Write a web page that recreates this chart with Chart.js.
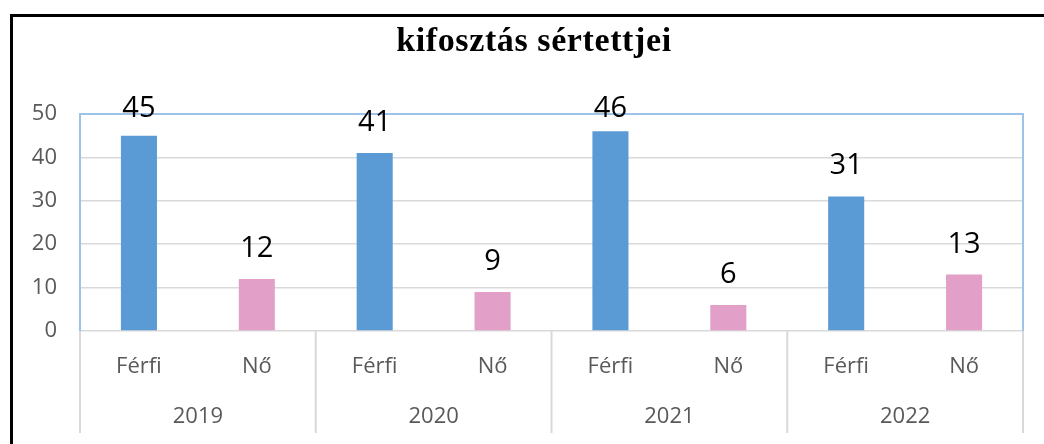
<!DOCTYPE html>
<html lang="hu">
  <head>
    <meta charset="UTF-8" />
    <title>kifosztás sértettjei</title>
    <style>
      html, body { margin: 0; overflow: hidden; background: #fff; }
      /* black outer frame, cut off at right and bottom like the screenshot */
      .frame {
        position: absolute;
        left: 10px;
        top: 14px;
        width: 1100px;
        height: 500px;
        border-left: 3px solid #000;
        border-top: 3px solid #000;
      }
      .title {
        position: absolute;
        left: 0;
        top: 20px;
        width: 1068px;
        text-align: center;
        font: bold 34px/40px "Liberation Serif", serif;
        letter-spacing: 0.6px;
        color: #000;
      }
      #myChart { position: absolute; left: 0; top: 0; }
    </style>
  </head>
  <body>
    <div class="frame"></div>
    <canvas id="myChart" width="1044" height="444"></canvas>
    <div class="title">kifosztás sértettjei</div>

    <script src="https://cdn.jsdelivr.net/npm/chart.js"></script>
    <script>
      const years = ["2019", "2020", "2021", "2022"];
      const genders = ["Férfi", "Nő"];
      const ferfi = [45, 41, 46, 31];
      const no = [12, 9, 6, 13];
      const yTicks = [0, 10, 20, 30, 40, 50];

      const blue = "#5B9BD5";
      const pink = "#E2A0C8";
      const gridGray = "#D9D9D9";
      const tickGray = "#595959";

      let labels = [];
      let values = [];
      let colors = [];
      for (var i = 0; i < years.length; i++) {
        labels.push(genders[0], genders[1]);
        values.push(ferfi[i], no[i]);
        colors.push(blue, pink);
      }

      // light blue plot border + year separators under the axis
      const plotFrame = {
        id: "plotFrame",
        beforeDatasetsDraw(chart) {
          const { ctx, chartArea } = chart;
          const x = chart.scales.x;
          const half = (x.getPixelForValue(1) - x.getPixelForValue(0)) / 2;
          ctx.save();
          ctx.strokeStyle = gridGray;
          ctx.lineWidth = 2;
          for (var i = 0; i <= years.length; i++) {
            const px =
              i < years.length
                ? x.getPixelForValue(i * 2) - half
                : x.getPixelForValue(i * 2 - 1) + half;
            ctx.beginPath();
            ctx.moveTo(px, chartArea.bottom);
            ctx.lineTo(px, chart.scales.x2.bottom + 2);
            ctx.stroke();
          }
          ctx.strokeStyle = "#9DC3E6";
          ctx.lineWidth = 2;
          ctx.beginPath();
          ctx.moveTo(chartArea.left, chartArea.bottom);
          ctx.lineTo(chartArea.left, chartArea.top);
          ctx.lineTo(chartArea.right, chartArea.top);
          ctx.lineTo(chartArea.right, chartArea.bottom);
          ctx.stroke();
          ctx.restore();
        },
      };

      // numbers above the bars
      const valueLabels = {
        id: "valueLabels",
        afterDatasetsDraw(chart) {
          const { ctx, chartArea } = chart;
          const meta = chart.getDatasetMeta(0);
          ctx.save();
          ctx.font = "29px 'Open Sans'";
          ctx.fillStyle = "#000";
          ctx.textAlign = "center";
          ctx.textBaseline = "alphabetic";
          meta.data.forEach((bar, i) => {
            const y = Math.max(bar.y - 22, chartArea.top + 3);
            ctx.fillText(values[i], bar.x, y);
          });
          ctx.restore();
        },
      };

      const config = {
        type: "bar",
        data: {
          labels: labels,
          datasets: [
            {
              data: values,
              backgroundColor: colors,
              barPercentage: 0.306,
              categoryPercentage: 1,
            },
          ],
        },
        options: {
          responsive: false,
          animation: false,
          layout: {
            padding: { left: 0, right: 21, top: 114, bottom: 13 },
          },
          plugins: {
            legend: { display: false },
            tooltip: { enabled: false },
          },
          scales: {
            x: {
              afterFit: (s) => {
                s.height = 49;
              },
              grid: { display: false, drawTicks: false },
              border: { display: false },
              ticks: {
                color: tickGray,
                padding: 23,
                font: { family: "'Open Sans'", size: 22 },
              },
            },
            x2: {
              type: "category",
              labels: years,
              position: "bottom",
              offset: true,
              afterFit: (s) => {
                s.height = 51;
              },
              grid: { display: false, drawTicks: false },
              border: { display: false },
              ticks: {
                color: tickGray,
                padding: 24,
                font: { family: "'Open Sans'", size: 22 },
              },
            },
            y: {
              min: 0,
              max: 50,
              afterBuildTicks: (s) => {
                s.ticks = yTicks.map((v) => ({ value: v }));
              },
              afterFit: (s) => {
                s.width = 80;
              },
              grid: { color: gridGray, lineWidth: 1.5, drawTicks: false },
              border: { display: false },
              ticks: {
                color: tickGray,
                padding: 23,
                font: { family: "'Open Sans'", size: 22 },
              },
            },
          },
        },
        plugins: [plotFrame, valueLabels],
      };

      const myChart = new Chart(document.getElementById("myChart"), config);
    </script>
  </body>
</html>
